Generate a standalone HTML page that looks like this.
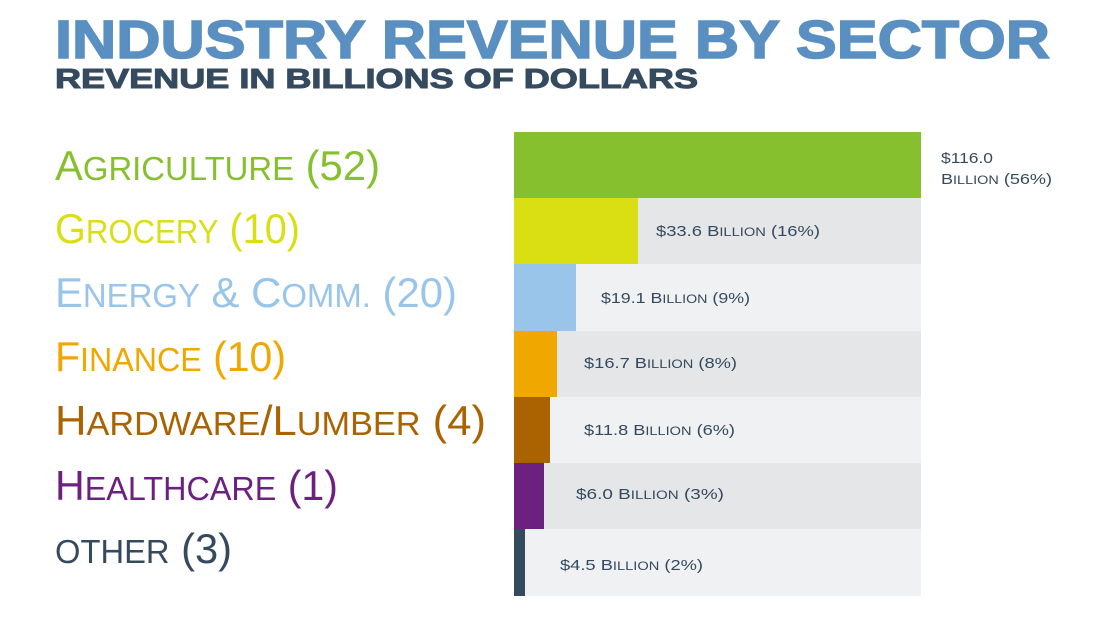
<!DOCTYPE html>
<html><head><meta charset="utf-8"><style>
html,body{margin:0;padding:0;background:#fff;}
svg{display:block;}
.t{font-family:"Liberation Sans",sans-serif;}
</style></head><body>
<svg width="1116" height="640" xmlns="http://www.w3.org/2000/svg">
<text class="t" x="55" y="58" font-size="54" font-weight="bold" fill="#5a8fc2" stroke="#5a8fc2" stroke-width="1.5" textLength="995" lengthAdjust="spacingAndGlyphs">INDUSTRY REVENUE BY SECTOR</text>
<text class="t" x="55" y="88" font-size="28" font-weight="bold" fill="#344a5e" stroke="#344a5e" stroke-width="1" textLength="643" lengthAdjust="spacingAndGlyphs">REVENUE IN BILLIONS OF DOLLARS</text>

<rect x="514" y="198" width="407" height="66" fill="#e5e6e8"/>
<rect x="514" y="264" width="407" height="67" fill="#f0f1f3"/>
<rect x="514" y="331" width="407" height="66" fill="#e5e6e8"/>
<rect x="514" y="397" width="407" height="66" fill="#f0f1f3"/>
<rect x="514" y="463" width="407" height="66" fill="#e5e6e8"/>
<rect x="514" y="529" width="407" height="67" fill="#f0f1f3"/>

<rect x="514" y="132" width="407" height="66" fill="#86c02e"/>
<rect x="514" y="198" width="124" height="66" fill="#d9df12"/>
<rect x="514" y="264" width="62" height="67" fill="#9ac5eb"/>
<rect x="514" y="331" width="43" height="66" fill="#f0a800"/>
<rect x="514" y="397" width="36" height="66" fill="#aa6300"/>
<rect x="514" y="463" width="30" height="66" fill="#6c2181"/>
<rect x="514" y="529" width="11" height="67" fill="#344a5e"/>

<g class="t" fill="#344a5e" font-size="15">
<text x="941" y="163" textLength="52" lengthAdjust="spacingAndGlyphs">$116.0</text>
<text x="941" y="184" textLength="111" lengthAdjust="spacingAndGlyphs"><tspan>B</tspan><tspan font-size="12">ILLION</tspan> (56%)</text>
<text x="656" y="236" textLength="164" lengthAdjust="spacingAndGlyphs">$33.6 B<tspan font-size="12">ILLION</tspan> (16%)</text>
<text x="601" y="303" textLength="149" lengthAdjust="spacingAndGlyphs">$19.1 B<tspan font-size="12">ILLION</tspan> (9%)</text>
<text x="584" y="368" textLength="153" lengthAdjust="spacingAndGlyphs">$16.7 B<tspan font-size="12">ILLION</tspan> (8%)</text>
<text x="584" y="435" textLength="151" lengthAdjust="spacingAndGlyphs">$11.8 B<tspan font-size="12">ILLION</tspan> (6%)</text>
<text x="576" y="499" textLength="148" lengthAdjust="spacingAndGlyphs">$6.0 B<tspan font-size="12">ILLION</tspan> (3%)</text>
<text x="560" y="570" textLength="143" lengthAdjust="spacingAndGlyphs">$4.5 B<tspan font-size="12">ILLION</tspan> (2%)</text>
</g>

<g class="t" font-size="42">
<text x="55" y="180" fill="#86c02e" textLength="325" lengthAdjust="spacingAndGlyphs">A<tspan font-size="33">GRICULTURE</tspan> (52)</text>
<text x="55" y="243" fill="#d9df12" textLength="245" lengthAdjust="spacingAndGlyphs">G<tspan font-size="33">ROCERY</tspan> (10)</text>
<text x="55" y="307" fill="#9ac5eb" textLength="402" lengthAdjust="spacingAndGlyphs">E<tspan font-size="33">NERGY</tspan> &amp; C<tspan font-size="33">OMM.</tspan> (20)</text>
<text x="55" y="371" fill="#f0a800" textLength="231" lengthAdjust="spacingAndGlyphs">F<tspan font-size="33">INANCE</tspan> (10)</text>
<text x="55" y="435" fill="#aa6300" textLength="431" lengthAdjust="spacingAndGlyphs">H<tspan font-size="33">ARDWARE</tspan>/L<tspan font-size="33">UMBER</tspan> (4)</text>
<text x="55" y="500" fill="#6c2181" textLength="283" lengthAdjust="spacingAndGlyphs">H<tspan font-size="33">EALTHCARE</tspan> (1)</text>
<text x="55" y="563" fill="#344a5e" textLength="177" lengthAdjust="spacingAndGlyphs"><tspan font-size="33">OTHER</tspan> (3)</text>
</g>
</svg>
</body></html>
